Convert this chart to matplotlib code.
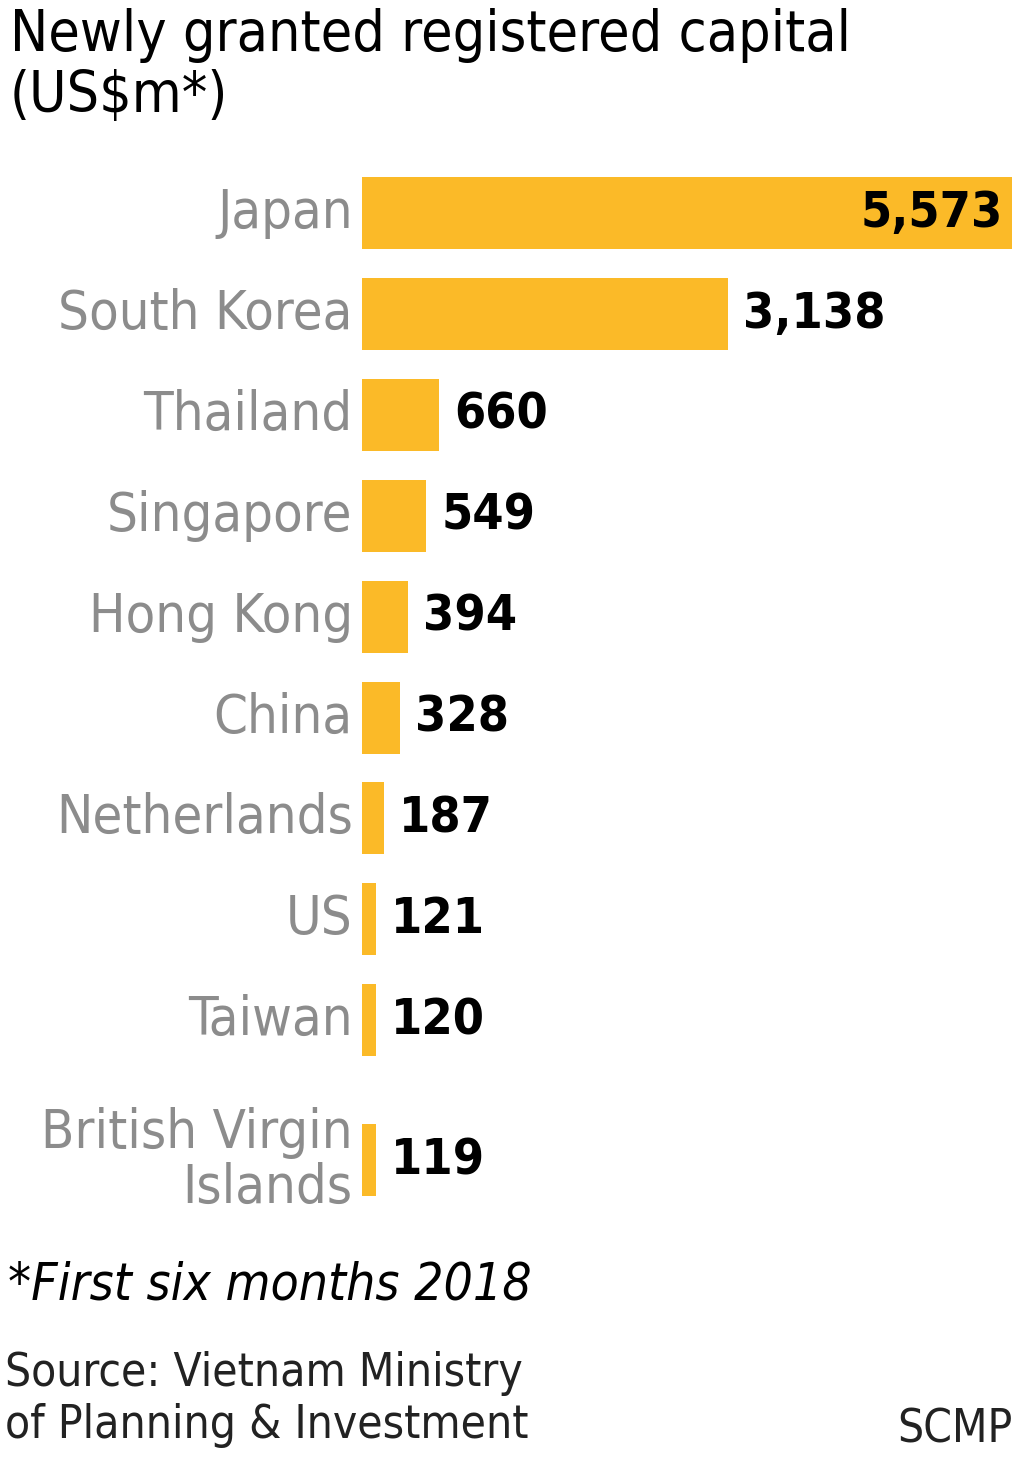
import matplotlib.pyplot as plt

countries = ["Japan", "South Korea", "Thailand", "Singapore", "Hong Kong",
             "China", "Netherlands", "US", "Taiwan", "British Virgin\nIslands"]
values = [5573, 3138, 660, 549, 394, 328, 187, 121, 120, 119]
# vertical slot of each bar (BVI sits lower because of its two-line label)
slots = [0, 1, 2, 3, 4, 5, 6, 7, 8, 9.39]

plt.rcParams['font.family'] = ["DejaVu Sans"]
plt.rcParams['font.stretch'] = "condensed"

fig = plt.figure(figsize=(10.24, 14.68), dpi=100)
ax = fig.add_axes([362 / 1024, 0, 650 / 1024, 1])
ax.set_xlim(0, 5573)
ax.set_ylim(1468, 0)
ax.axis("off")

ys = [213 + 100.9 * s for s in slots]
ax.barh(ys, values, height=72, color="#FBBA28")

for y, v, c in zip(ys, values, countries):
    ax.text(-80, y, c, ha="right", va="center", fontsize=39, color="#8c8c8c",
            linespacing=1.05, clip_on=False)
    if v > 5000:
        ax.text(v - 80, y, f"{v:,}", ha="right", va="center", fontsize=36,
                fontweight="bold", color="black")
    else:
        ax.text(v + 130, y, f"{v:,}", ha="left", va="center", fontsize=36,
                fontweight="bold", color="black")

fig.text(10 / 1024, 1 - 8 / 1468, "Newly granted registered capital\n(US$m*)",
         ha="left", va="top", fontsize=41, linespacing=1.15, color="black")
fig.text(8 / 1024, 1 - 1285 / 1468, "*First six months 2018", ha="left", va="center",
         fontsize=37, style="italic", color="black")
fig.text(5 / 1024, 1 - 1400 / 1468, "Source: Vietnam Ministry\nof Planning & Investment",
         ha="left", va="center", fontsize=33, color="#222222", linespacing=1.2)
fig.text(1012 / 1024, 1 - 1430 / 1468, "SCMP", ha="right", va="center",
         fontsize=33, color="#222222")

fig.savefig("out.png", dpi=100, facecolor="white")
